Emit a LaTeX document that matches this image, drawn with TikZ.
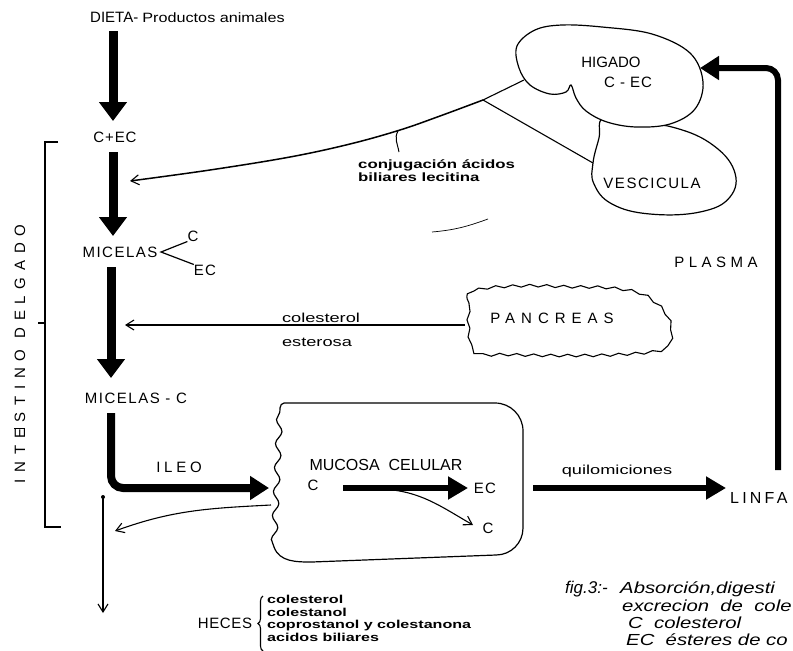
\documentclass[tikz,border=0pt]{standalone}
\usepackage{fontspec}
\setmainfont{Liberation Sans}
\newfontfamily\widefont[FakeStretch=1.4]{Liberation Sans}
\newfontfamily\semiwide[FakeStretch=1.2]{Liberation Sans}
\newfontfamily\captfont[FakeStretch=1.27]{Liberation Sans}
\usetikzlibrary{arrows.meta,decorations.pathmorphing,decorations.pathreplacing}
\begin{document}
\begin{tikzpicture}[x=1pt,y=-1pt,
  every node/.style={inner sep=0pt},
  capl/.style={font=\fontsize{15}{17}\selectfont},
  spaced/.style={font=\fontsize{15}{17}\selectfont\addfontfeature{LetterSpace=#1}},
  small/.style={font=\fontsize{13}{15}\selectfont\widefont},
  tight/.style={font=\fontsize{12}{13.5}\selectfont\widefont\bfseries, align=left},
  hlist/.style={font=\fontsize{11.5}{12.6}\selectfont\widefont\bfseries, align=left},
  capt/.style={font=\fontsize{16}{18}\selectfont\captfont\itshape, anchor=west},
  bigarrow/.style={line width=9pt,-{Triangle[width=27pt,length=19pt]}},
  medarrow/.style={line width=6.5pt,-{Triangle[width=23pt,length=19pt]}},
  thinarrow/.style={line width=1.1pt,-{Straight Barb[length=8pt,width=10pt,line width=1.1pt]}},
  outline/.style={line width=1.2pt}]
\useasboundingbox[fill=white] (0,0) rectangle (793,651);

% ---------- main column ----------
\node[anchor=west] (dieta) at (90,17) {\fontsize{15}{17}\selectfont DIETA- \fontsize{13.5}{17}\selectfont\semiwide Productos animales};
\node[spaced=6] (cec) at (115,137) {C+EC};
\node[spaced=10] (micelas) at (120,252) {MICELAS};
\node[spaced=10] (mc) at (136,398) {MICELAS - C};
\node[capl] (mc1) at (193,236) {C};
\node[spaced=8] (mc2) at (205,270) {EC};
\coordinate (br) at (161,252);
\draw[line width=1.2pt] (mc1.south west) -- (br) -- (mc2.north west);

\coordinate (a1s) at (113,31);  \coordinate (a1e) at (113,121);
\coordinate (a2s) at (113,152); \coordinate (a2e) at (113,236);
\coordinate (a3s) at (111,267); \coordinate (a3e) at (111,378);
\coordinate (a4s) at (111,413); \coordinate (a4c) at (111,488); \coordinate (a4e) at (269,488);
\draw[bigarrow] (a1s) -- (a1e);
\draw[bigarrow] (a2s) -- (a2e);
\draw[bigarrow] (a3s) -- (a3e);
\draw[medarrow, line width=8pt, rounded corners=12pt] (a4s) -- (a4c) -- (a4e);
\node[spaced=25] (ileo) at (179,467) {ILEO};

% heces branch
\coordinate (hs) at (103,497); \coordinate (he) at (103,613);
\fill (hs) circle (2pt);
\draw[thinarrow] (hs) -- (he);

% ---------- intestine bracket ----------
\draw[line width=1.1pt] (58,142) -- (45,142) -- (45,527) -- (61,527);
\draw[line width=1.1pt] (38,323) -- (45,323);
\node[spaced=45, rotate=90] (intest) at (20,354) {INTESTINO DELGADO};

% ---------- liver & gallbladder ----------
\draw[outline, fill=white] plot[smooth cycle, tension=0.7] coordinates {
  (604,118) (640,124) (672,127) (710,143) (734,170) (730,197) (700,212)
  (650,214) (612,204) (594,184) (593,163) (599,138)};
\draw[outline, fill=white] plot[smooth cycle, tension=0.6] coordinates {
  (517,46) (535,30) (562,25) (602,27) (652,34) (690,53) (703,82) (695,109)
  (670,124) (636,127) (607,122) (586,111) (576,98) (571,85) (566,92)
  (550,94) (530,85) (519,68)};
\node[capl] (higado) at (611,62) {HIGADO};
\node[spaced=6] (cec2) at (628,82) {C - EC};
\node[spaced=10] (vesc) at (652,183) {VESCICULA};

% bile ducts
\coordinate (hep) at (524,80);
\coordinate (jn) at (483,100);
\coordinate (cys) at (593,163);
\coordinate (bileend) at (130,181);
\draw[line width=1.1pt] (hep) -- (jn) -- (cys);
\draw[line width=1.5pt, -{Straight Barb[length=8pt,width=10pt,line width=1.1pt]}]
  plot[smooth, tension=0.6] coordinates {(jn) (440,116) (400,130) (350,144) (290,157) (210,170) (bileend)};
\draw[line width=1pt] (398,131) to[out=-120,in=100] (399,152);
\node[tight, anchor=north west] (conj) at (358,159) {conjugación ácidos\\biliares lecitina};

% stray marks
\draw[line width=0.7pt] (432,232) to[out=5,in=200] (488,219);
\draw[line width=1pt] (14,428) -- (25,428);

% return arrow
\coordinate (rs) at (778,470); \coordinate (rc) at (778,68); \coordinate (re) at (700,68);
\draw[medarrow, line width=6pt, rounded corners=12pt] (rs) -- (rc) -- (re);
\node[spaced=30] (plasma) at (716,262) {PLASMA};

% ---------- pancreas ----------
\draw[line width=1.1pt, decorate, decoration={snake, segment length=17pt, amplitude=1.3pt}]
  plot[smooth cycle, tension=0.6] coordinates {
  (466,305) (474,291) (520,287) (565,288) (605,289) (635,294) (652,304)
  (664,318) (668,336) (660,350) (615,355) (560,356) (505,355) (472,353) (465,330)};
\node[spaced=40] (panc) at (552,318) {PANCREAS};
\coordinate (pancl) at (465,325);
\coordinate (pance) at (125,325);
\draw[thinarrow] (pancl) -- (pance);
\node[small, anchor=south] (col) at (321,323) {colesterol};
\node[small] (est) at (317,342) {esterosa};

% ---------- mucosa ----------
\draw[outline] (284,403) -- (495,403) to[out=0,in=90] (523,431) -- (523,528)
  to[out=-90,in=0] (496,555) -- (312,562) to[out=180,in=-70] (274,547);
\draw[outline, decorate, decoration={snake, segment length=24pt, amplitude=3pt}]
  (274,547) -- (280,408);
\draw[outline] (280,408) to[out=80,in=180] (284,403);
\node[font=\fontsize{16}{18}\selectfont] (mucosa) at (386,465) {MUCOSA\ \ CELULAR};
\node[capl] (mucC) at (313,485) {C};
\node[spaced=8] (mucEC) at (485,488) {EC};
\node[capl] (mucC2) at (488,528) {C};
\coordinate (m1s) at (343,488); \coordinate (m1e) at (468,488);
\draw[medarrow, line width=6pt, -{Triangle[width=22pt,length=20pt]}] (m1s) -- (m1e);
\coordinate (m2s) at (382,489); \coordinate (m2e) at (473,525);
\draw[thinarrow] (m2s) to[out=-3,in=150] (m2e);

% mucosa back to lumen
\coordinate (bk) at (271,505); \coordinate (bke) at (115,531);
\draw[thinarrow] (bk) to[out=183,in=20] (bke);

% quilomiciones
\coordinate (qs) at (533,488); \coordinate (qe) at (726,488);
\draw[medarrow, line width=6pt, -{Triangle[width=22pt,length=20pt]}] (qs) -- (qe);
\node[small] (quilo) at (617,471) {quilomiciones};
\node[font=\fontsize{16}{18}\selectfont\addfontfeature{LetterSpace=20}, anchor=west] (linfa) at (730,498) {LINFA};

% ---------- heces ----------
\node[spaced=4] (heces) at (225,623) {HECES};
\draw[line width=1.1pt, decorate, decoration={brace, amplitude=5pt}] (263,651) -- (263,596);
\node[hlist, anchor=north west] (hitems) at (267,595)
  {colesterol\\colestanol\\coprostanol y colestanona\\acidos biliares};

% ---------- caption ----------
\node[font=\fontsize{17}{19}\selectfont\itshape, anchor=west] (fig) at (565,589) {fig.3:-};
\node[capt] (cap1) at (620,589) {Absorción,digesti};
\node[capt] (cap2) at (622,606) {excrecion\ \ de\ \ cole};
\node[capt] (cap3) at (628,623) {C\ \ colesterol};
\node[capt] (cap4) at (626,639.5) {EC\ \ ésteres de co};
\end{tikzpicture}
\end{document}
